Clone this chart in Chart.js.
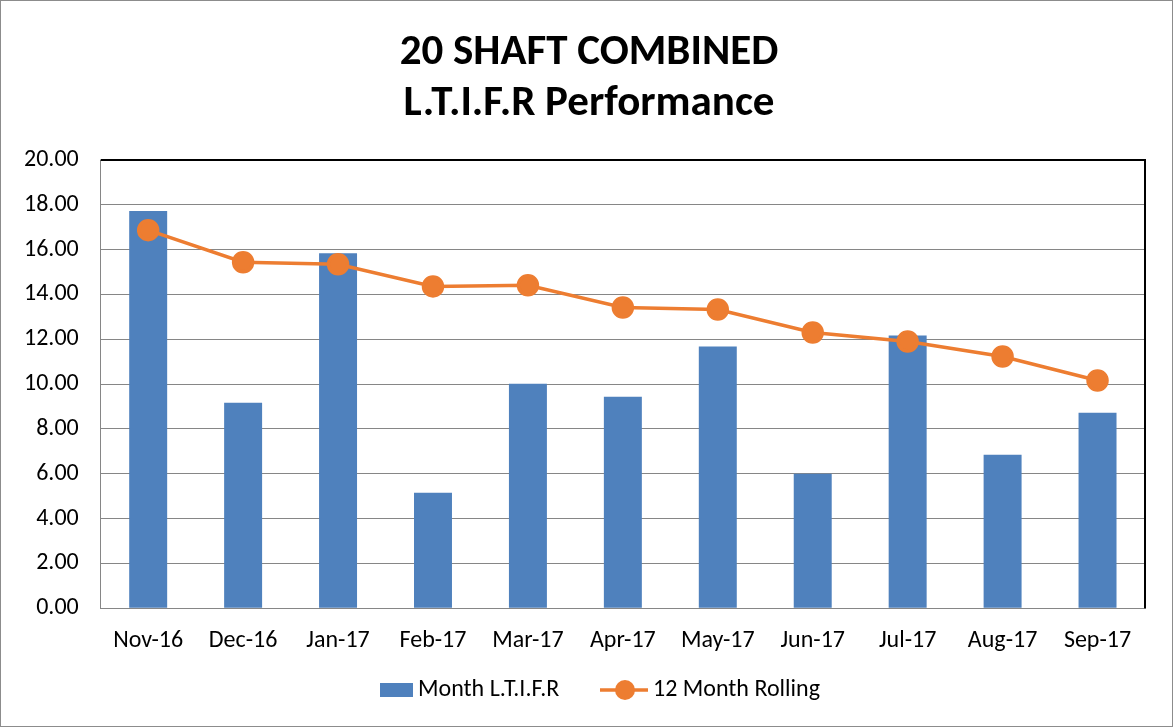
<!DOCTYPE html>
<html>
<head>
<meta charset="utf-8">
<script src="https://cdn.jsdelivr.net/npm/chart.js@4/dist/chart.umd.min.js"></script>
<style>
  html, body { margin: 0; padding: 0; background: #fff; }
  #wrap { position: relative; width: 1173px; height: 727px; box-sizing: border-box; border: 1px solid #8c8c8c; }
  canvas { display: block; }
</style>
</head>
<body>
<div id="wrap"><canvas id="myChart" width="1171" height="725"></canvas></div>
<script>
const months = ['Nov-16', 'Dec-16', 'Jan-17', 'Feb-17', 'Mar-17', 'Apr-17', 'May-17', 'Jun-17', 'Jul-17', 'Aug-17', 'Sep-17'];
const monthLtifr = [17.72, 9.17, 15.84, 5.15, 10.02, 9.44, 11.68, 6.00, 12.17, 6.85, 8.72];
const rolling12 = [16.87, 15.44, 15.35, 14.36, 14.41, 13.42, 13.33, 12.30, 11.90, 11.23, 10.16];
const titleLines = ['20 SHAFT COMBINED', 'L.T.I.F.R Performance'];

const FONT = "Calibri, Carlito, 'Liberation Sans', sans-serif";
const BLUE = '#4f81bd';
const ORANGE = '#ed7d31';

// title drawn by hand: Excel centres it a bit right of the built-in title position
const titleBlock = {
  id: 'titleBlock',
  afterDraw(chart) {
    const { ctx } = chart;
    ctx.save();
    ctx.font = 'bold 43px ' + FONT;
    ctx.fillStyle = '#000';
    ctx.textAlign = 'center';
    ctx.textBaseline = 'middle';
    titleLines.forEach((t, i) => ctx.fillText(t, 588, 52 + i * 51));
    ctx.restore();
  }
};

// black border on top and right of the plot area, like the Excel original
const plotFrame = {
  id: 'plotFrame',
  afterDraw(chart) {
    const { ctx, chartArea: a } = chart;
    ctx.save();
    ctx.strokeStyle = '#000';
    ctx.lineWidth = 2;
    ctx.beginPath();
    ctx.moveTo(a.left, a.top);
    ctx.lineTo(a.right, a.top);
    ctx.lineTo(a.right, a.bottom);
    ctx.stroke();
    ctx.restore();
  }
};

// legend drawn by hand so the line entry shows line + marker
const bottomLegend = {
  id: 'bottomLegend',
  afterDraw(chart) {
    const { ctx } = chart;
    const y = 689;
    const bars = chart.data.datasets[1];
    const line = chart.data.datasets[0];
    ctx.save();
    ctx.font = '24px ' + FONT;
    ctx.textBaseline = 'middle';
    ctx.fillStyle = bars.backgroundColor;
    ctx.fillRect(379, y - 7, 33, 14);
    ctx.fillStyle = '#000';
    ctx.fillText(bars.label, 417, y);
    ctx.strokeStyle = line.borderColor;
    ctx.lineWidth = 3.5;
    ctx.beginPath();
    ctx.moveTo(599, y);
    ctx.lineTo(647, y);
    ctx.stroke();
    ctx.fillStyle = line.pointBackgroundColor;
    ctx.beginPath();
    ctx.arc(624, y, 10, 0, Math.PI * 2);
    ctx.fill();
    ctx.fillStyle = '#000';
    ctx.fillText(line.label, 652, y);
    ctx.restore();
  }
};

new Chart(document.getElementById('myChart').getContext('2d'), {
  type: 'bar',
  data: {
    labels: months,
    datasets: [
      {
        type: 'line',
        label: '12 Month Rolling',
        data: rolling12,
        borderColor: ORANGE,
        borderWidth: 3.5,
        pointBackgroundColor: ORANGE,
        pointBorderColor: ORANGE,
        pointRadius: 9.5,
        tension: 0,
        order: 0
      },
      {
        label: 'Month L.T.I.F.R',
        data: monthLtifr,
        backgroundColor: BLUE,
        barPercentage: 0.4,
        categoryPercentage: 1.0,
        order: 1
      }
    ]
  },
  options: {
    responsive: false,
    animation: false,
    layout: { padding: { left: 1, right: 27, top: 159, bottom: 53 } },
    plugins: {
      legend: { display: false },
      tooltip: { enabled: false },
      title: { display: false }
    },
    scales: {
      x: {
        grid: { display: false, drawTicks: false },
        border: { color: '#868686', width: 1 },
        ticks: { color: '#000', font: { family: FONT, size: 24 }, padding: 18, maxRotation: 0 }
      },
      y: {
        min: 0,
        max: 20,
        grid: { color: '#868686', lineWidth: 1, drawTicks: false },
        border: { color: '#868686', width: 1 },
        ticks: {
          stepSize: 2,
          color: '#000',
          font: { family: FONT, size: 24 },
          padding: 22,
          callback: v => v.toFixed(2)
        }
      }
    }
  },
  plugins: [titleBlock, plotFrame, bottomLegend]
});
</script>
</body>
</html>
